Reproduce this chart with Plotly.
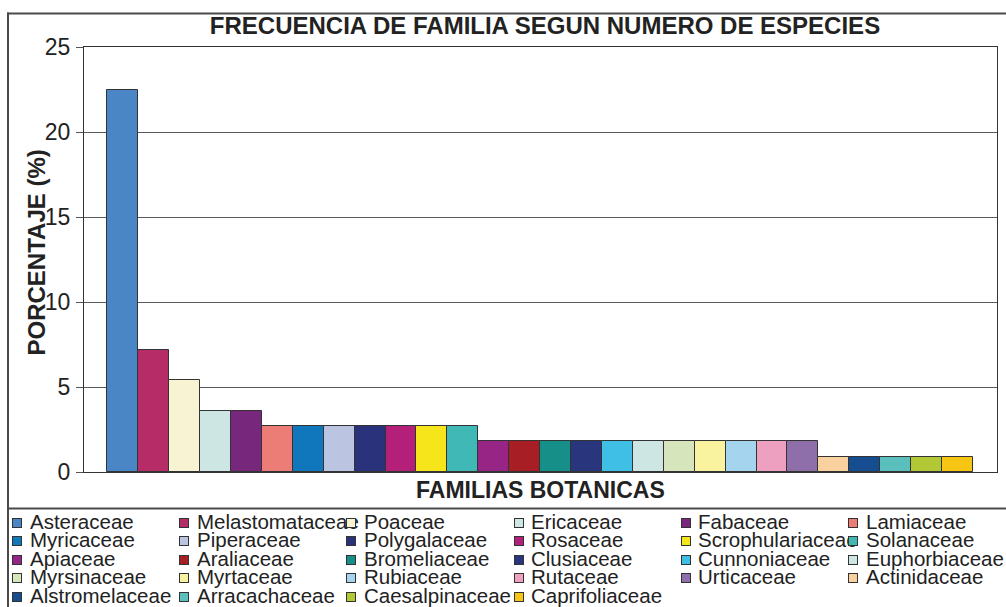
import plotly.graph_objects as go

# ---- data ----
families = [
    "Asteraceae", "Melastomataceae", "Poaceae", "Ericaceae", "Fabaceae", "Lamiaceae",
    "Myricaceae", "Piperaceae", "Polygalaceae", "Rosaceae", "Scrophulariaceae", "Solanaceae",
    "Apiaceae", "Araliaceae", "Bromeliaceae", "Clusiaceae", "Cunnoniaceae", "Euphorbiaceae",
    "Myrsinaceae", "Myrtaceae", "Rubiaceae", "Rutaceae", "Urticaceae", "Actinidaceae",
    "Alstromelaceae", "Arracachaceae", "Caesalpinaceae", "Caprifoliaceae",
]
percentages = [
    22.5, 7.2, 5.4, 3.6, 3.6, 2.7,
    2.7, 2.7, 2.7, 2.7, 2.7, 2.7,
    1.8, 1.8, 1.8, 1.8, 1.8, 1.8,
    1.8, 1.8, 1.8, 1.8, 1.8, 0.9,
    0.9, 0.9, 0.9, 0.9,
]
colors = [
    "#4a86c5", "#b52c66", "#f8f3d3", "#cde6e3", "#77287c", "#ec7d76",
    "#1177bd", "#bbc5e1", "#29327a", "#b41f79", "#f6e51a", "#40b8b5",
    "#962585", "#a81e25", "#158f87", "#29357d", "#3fbfe6", "#cde6e3",
    "#d7e5bd", "#f9f29f", "#a5d5ee", "#eda0bf", "#8e6faa", "#f8d19f",
    "#154d90", "#5bbfbd", "#b2c935", "#f7c614",
]
y_ticks = [0, 5, 10, 15, 20, 25]

title_text = "FRECUENCIA DE FAMILIA SEGUN NUMERO DE ESPECIES"
x_title = "FAMILIAS BOTANICAS"
y_title = "PORCENTAJE (%)"

# ---- layout geometry (pixels) ----
W, H = 1006, 607
L, R, T, B = 84, 997, 47, 472
FONT = "Arial, 'Liberation Sans', Helvetica, sans-serif"
TXT = "#222222"


def px_x(px):
    return (px - L) / (R - L)


def px_y(py):
    return (B - py) / (B - T)


fig = go.Figure()
fig.add_trace(go.Bar(
    x=families, y=percentages,
    marker=dict(color=colors, line=dict(color="#333333", width=1)),
    showlegend=False,
    hovertemplate="%{x}: %{y}%<extra></extra>",
))

shapes = []
annotations = []

# outer frame (top + left) and legend separator
frame_color = "#4a4a4a"
shapes.append(dict(type="rect", xref="paper", yref="paper",
                   x0=px_x(7), x1=px_x(W + 5), y0=px_y(12.5), y1=px_y(14.5),
                   fillcolor=frame_color, line=dict(width=0)))
shapes.append(dict(type="rect", xref="paper", yref="paper",
                   x0=px_x(7), x1=px_x(9), y0=px_y(12.5), y1=px_y(H + 5),
                   fillcolor=frame_color, line=dict(width=0)))
shapes.append(dict(type="rect", xref="paper", yref="paper",
                   x0=px_x(7), x1=px_x(W + 5), y0=px_y(507.5), y1=px_y(509.5),
                   fillcolor=frame_color, line=dict(width=0)))

# axis titles
annotations.append(dict(xref="paper", yref="paper", x=px_x(540.5), y=px_y(489.5),
                        text=f"<b>{x_title}</b>", showarrow=False,
                        xanchor="center", yanchor="middle",
                        font=dict(family=FONT, size=23, color=TXT)))
annotations.append(dict(xref="paper", yref="paper", x=px_x(35.5), y=px_y(253),
                        text=f"<b>{y_title}</b>", showarrow=False, textangle=-90,
                        xanchor="center", yanchor="middle",
                        font=dict(family=FONT, size=24, color=TXT)))

# manual legend (6 columns, row-major): texts first, squares after (drawn on top)
col_step = 167.2
row_y = [523, 541, 559.5, 578, 596.5]
legend_texts, legend_boxes = [], []
for i, (name, c) in enumerate(zip(families, colors)):
    col, row = i % 6, i // 6
    sx = 12 + col * col_step
    cy = row_y[row]
    legend_texts.append(dict(xref="paper", yref="paper",
                             x=px_x(sx + 15.5), y=px_y(cy - 1.5),
                             text=name, showarrow=False,
                             xanchor="left", yanchor="middle",
                             font=dict(family=FONT, size=20.5, color=TXT)))
    legend_boxes.append(dict(xref="paper", yref="paper",
                             x=px_x(sx + 5), y=px_y(cy),
                             text=" ", showarrow=False,
                             xanchor="center", yanchor="middle",
                             width=8, height=8, borderpad=0, borderwidth=1,
                             bgcolor=c, bordercolor="#333333",
                             font=dict(size=1)))
annotations += legend_texts + legend_boxes

fig.update_layout(
    width=W, height=H,
    margin=dict(l=L, r=W - R, t=T, b=H - B, pad=0),
    paper_bgcolor="white", plot_bgcolor="white",
    bargap=0,
    title=dict(text=f"<b>{title_text}</b>", x=545 / W, xref="container",
               xanchor="center", y=1 - 26 / H, yref="container", yanchor="middle",
               font=dict(family=FONT, size=24, color=TXT)),
    shapes=shapes,
    annotations=annotations,
    font=dict(family=FONT, color=TXT),
)

fig.update_xaxes(
    type="category",
    range=[-0.5 - 0.755, len(families) - 0.5 + 0.78],
    showticklabels=False, ticks="",
    showline=True, mirror=True, linecolor="#333333", linewidth=1.2,
    showgrid=False,
    automargin=False,
)
fig.update_yaxes(
    range=[0, 25], tickvals=y_ticks,
    ticks="outside", ticklen=7, tickcolor="#555555", tickwidth=1,
    tickfont=dict(family=FONT, size=23, color=TXT),
    ticklabelstandoff=1,
    showline=True, mirror=True, linecolor="#333333", linewidth=1.2,
    showgrid=True, gridcolor="#5a5a5a", gridwidth=1,
    zeroline=False,
    automargin=False,
)

fig.write_html("out.html", config={"displayModeBar": False},
               post_script="document.body.style.margin='0';")
